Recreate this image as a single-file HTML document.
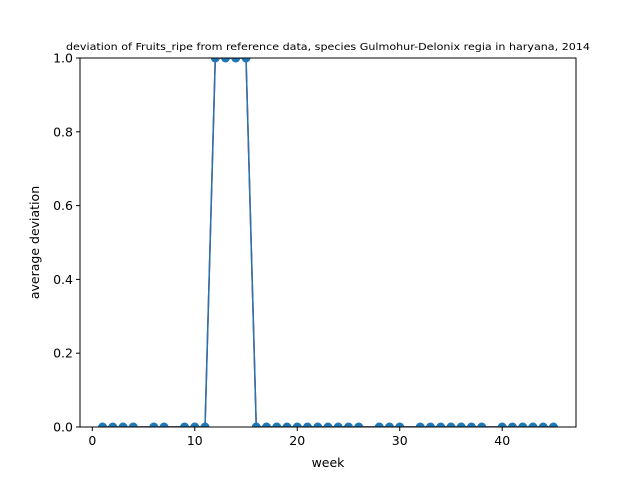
<!DOCTYPE html>
<html><head><meta charset="utf-8"><style>
body{margin:0;background:#fff;font-family:"DejaVu Sans","Liberation Sans",sans-serif}
svg{display:block}
</style></head><body>
<svg id="chart" width="640" height="480">
<defs><clipPath id="clip"><rect x="80" y="58" width="496" height="369"/></clipPath></defs>
<rect width="640" height="480" fill="#fff"/>
<text x="328" y="50" font-size="9.6" text-anchor="middle" textLength="524" lengthAdjust="spacingAndGlyphs">deviation of Fruits_ripe from reference data, species Gulmohur-Delonix regia in haryana, 2014</text>
<g id="plot"></g>
<g id="data" clip-path="url(#clip)"></g>
<rect x="80" y="58" width="496" height="369" fill="none" stroke="#000" stroke-width="1"/>
<text x="328" y="467" font-size="12.5" text-anchor="middle">week</text>
<text transform="translate(39,242.5) rotate(-90)" font-size="12.5" text-anchor="middle">average deviation</text>
</svg>
<script>
const weeks=[1,2,3,4,6,7,9,10,11,12,13,14,15,16,17,18,19,20,21,22,23,24,25,26,28,29,30,32,33,34,35,36,37,38,40,41,42,43,44,45];
const deviation=[0,0,0,0,0,0,0,0,0,1,1,1,1,0,0,0,0,0,0,0,0,0,0,0,0,0,0,0,0,0,0,0,0,0,0,0,0,0,0,0];
const xTicks=[0,10,20,30,40];
const yTicks=[0,0.2,0.4,0.6,0.8,1.0];
const X0=80,X1=576,Y0=427,Y1=58,xmin=-1.2,xmax=47.2,ymin=0,ymax=1;
const sx=v=>X0+(v-xmin)/(xmax-xmin)*(X1-X0);
const sy=v=>Y0-(v-ymin)/(ymax-ymin)*(Y0-Y1);
const NS="http://www.w3.org/2000/svg";
const g=document.getElementById('plot');
const d=document.getElementById('data');
function mk(t,a,p){const e=document.createElementNS(NS,t);for(const k in a)e.setAttribute(k,a[k]);(p||g).appendChild(e);return e;}
xTicks.forEach(t=>{
  const l=mk('line',{x1:sx(t),x2:sx(t),y1:Y0,y2:Y0+4,stroke:'#000'});
  
  
  const tx=mk('text',{x:sx(t),y:Y0+18,'font-size':12.5,'text-anchor':'middle'});
  tx.textContent=t;
  
  
});
yTicks.forEach(t=>{
  const l=mk('line',{x1:X0-4,x2:X0,y1:sy(t),y2:sy(t),stroke:'#000'});
  
  
  const tx=mk('text',{x:X0-7,y:sy(t)+4.5,'font-size':12.5,'text-anchor':'end'});
  tx.textContent=t.toFixed(1);
  
  
});
const pts=weeks.map((w,i)=>sx(w)+','+sy(deviation[i])).join(' ');
const red=mk('polyline',{points:pts,fill:'none',stroke:'#e00000','stroke-width':1.5},d);


const blue=mk('polyline',{points:pts,fill:'none',stroke:'#1f77b4','stroke-width':1.5},d);


weeks.forEach((w,i)=>{
  const c=mk('circle',{cx:sx(w),cy:sy(deviation[i]),r:4.5,fill:'#1f77b4'},d);
  
  
});
</script>
</body></html>
